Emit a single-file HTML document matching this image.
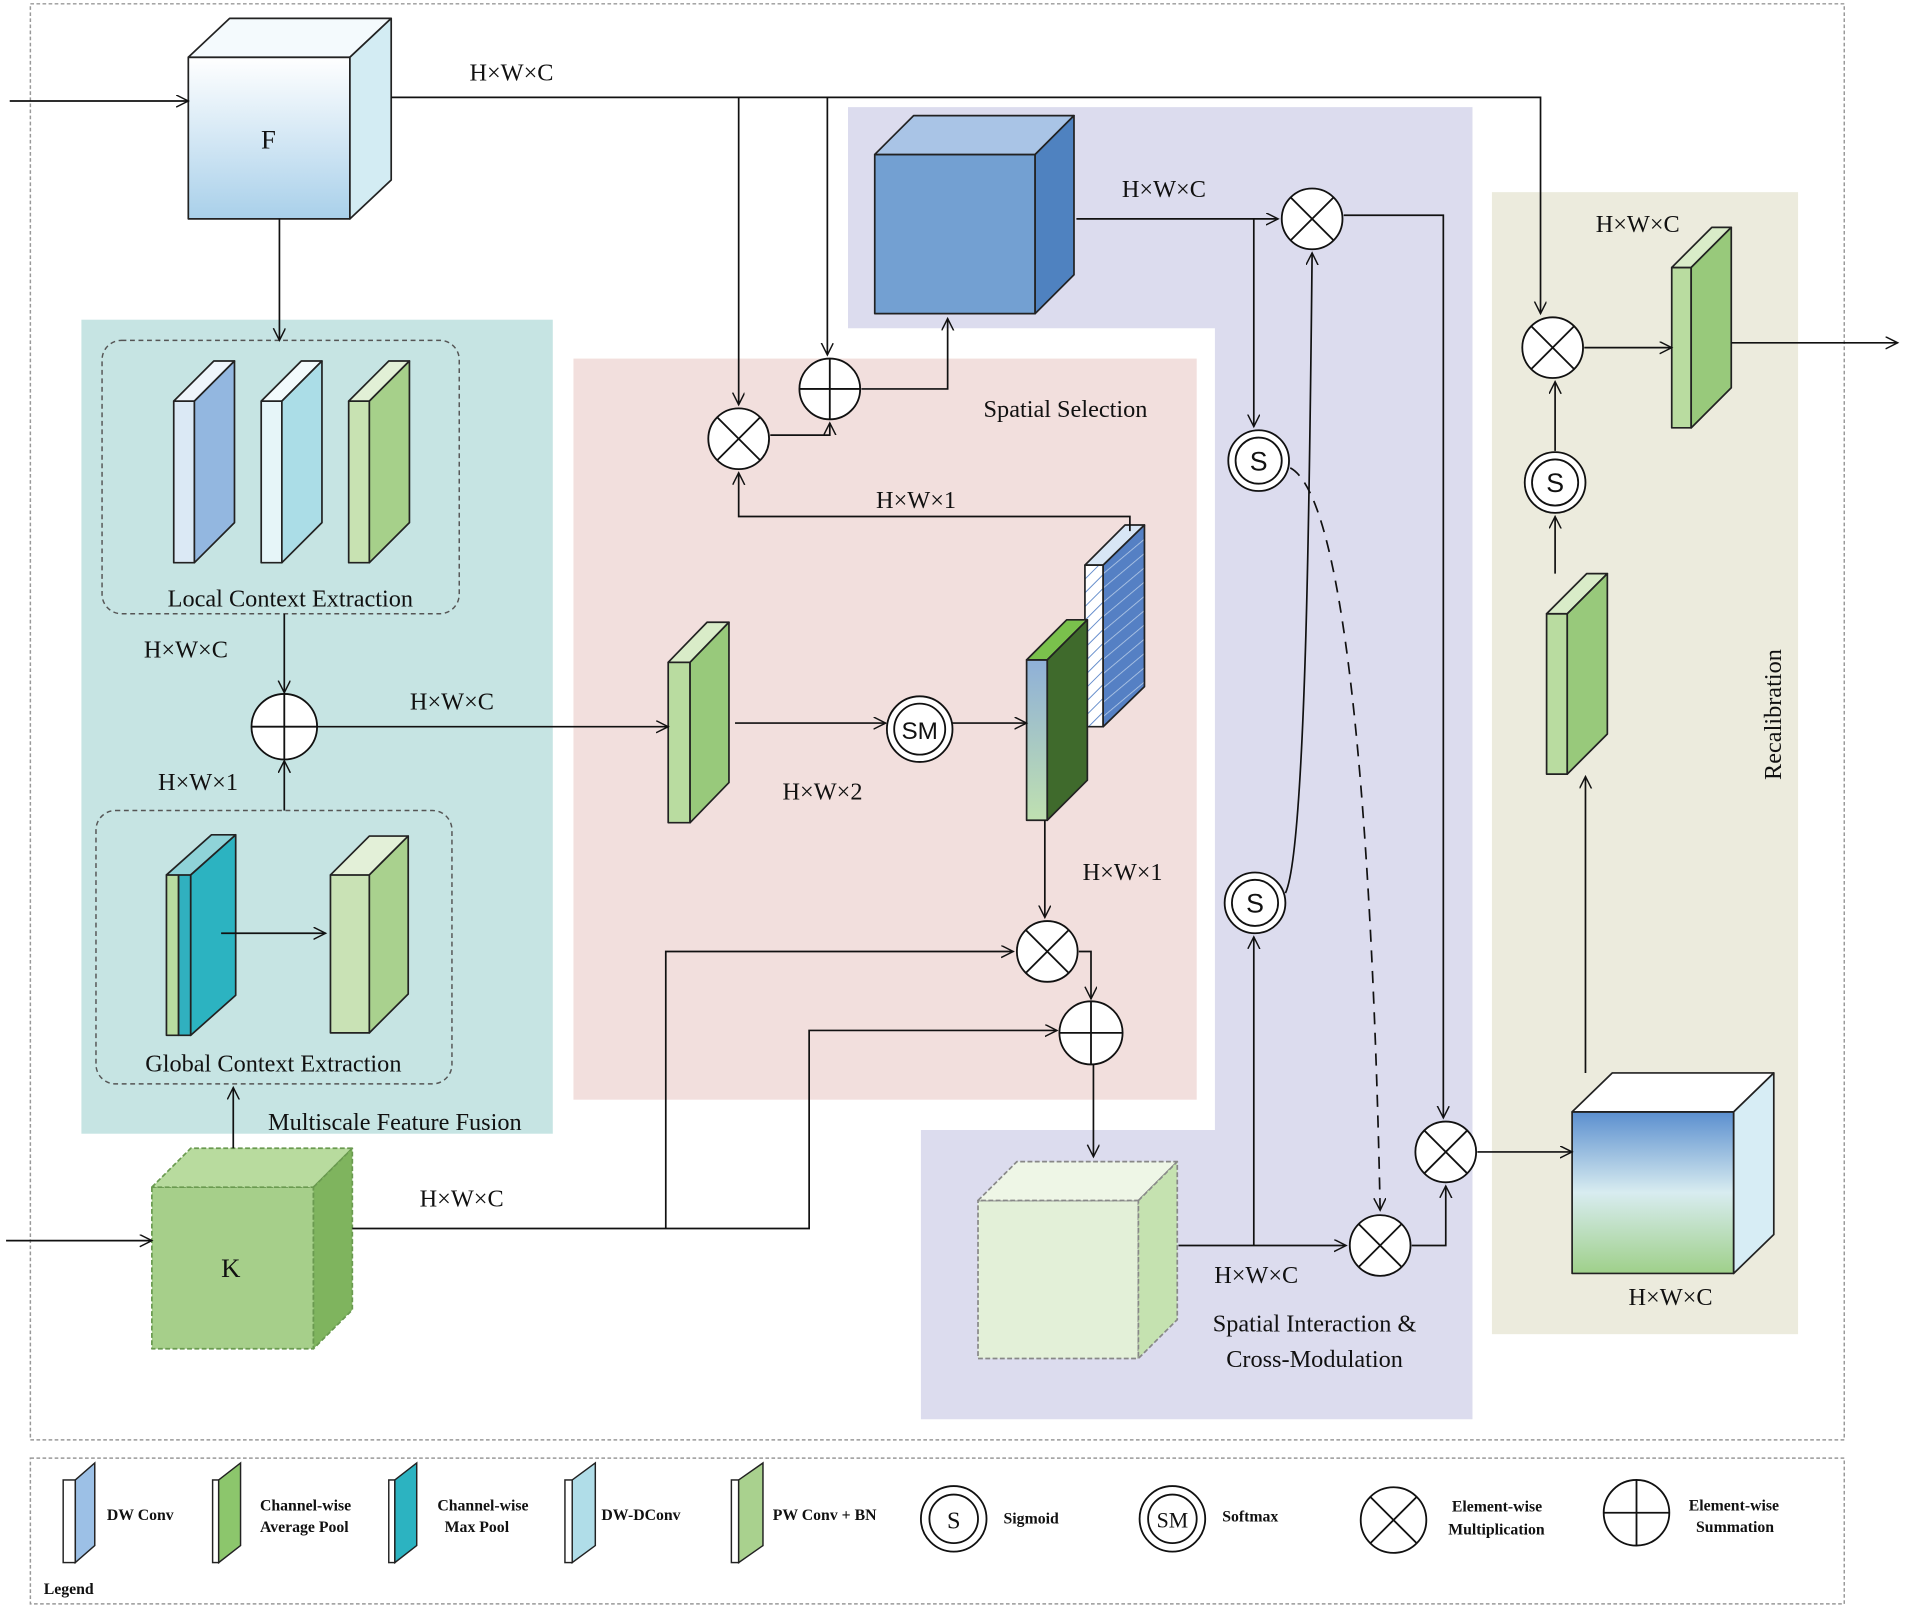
<!DOCTYPE html>
<html><head><meta charset="utf-8"><style>
html,body{margin:0;padding:0;background:#fff;}
svg{display:block;}
text{font-family:"Liberation Serif",serif;fill:#111;}
</style></head><body>
<svg width="1905" height="1615" viewBox="0 0 1568 1329" xmlns="http://www.w3.org/2000/svg">
<defs>
<marker id="a" markerWidth="12" markerHeight="12" refX="10" refY="5" orient="auto" markerUnits="userSpaceOnUse"><path d="M0,0 L10,5 L0,10" fill="none" stroke="#111" stroke-width="1.2"/></marker>
<linearGradient id="gF" x1="0" y1="0" x2="0" y2="1"><stop offset="0" stop-color="#ffffff"/><stop offset="1" stop-color="#a9d0ea"/></linearGradient>
<linearGradient id="gR" x1="0" y1="0" x2="0" y2="1"><stop offset="0" stop-color="#5b8fcf"/><stop offset="0.5" stop-color="#d8ecf0"/><stop offset="1" stop-color="#9fd08a"/></linearGradient>
<linearGradient id="gS" x1="0" y1="0" x2="0" y2="1"><stop offset="0" stop-color="#8fb0d8"/><stop offset="1" stop-color="#bfe0b0"/></linearGradient>
<pattern id="hw" width="8" height="8" patternUnits="userSpaceOnUse" patternTransform="rotate(-45)"><rect width="8" height="8" fill="#fff"/><line x1="0" y1="0" x2="8" y2="0" stroke="#5b86c8" stroke-width="1.5"/></pattern>
<pattern id="hb" width="9" height="9" patternUnits="userSpaceOnUse" patternTransform="rotate(-40)"><rect width="9" height="9" fill="#5580c4"/><line x1="0" y1="0" x2="9" y2="0" stroke="#b8cde8" stroke-width="1.3"/></pattern>
</defs>
<g fill="none" stroke="#999" stroke-width="1.2" stroke-dasharray="3,2">
<rect x="25" y="3" width="1493" height="1182"/>
<rect x="25" y="1200" width="1493" height="120"/>
</g>
<rect x="67" y="263" width="388" height="670" fill="#c6e4e3"/>
<path d="M698,88 H1212 V1168 H758 V930 H1000 V270 H698 Z" fill="#dcdcee"/>
<rect x="472" y="295" width="513" height="610" fill="#f2dfdd"/>
<rect x="1228" y="158" width="252" height="940" fill="#ecebdd"/>
<g fill="none" stroke="#555" stroke-width="1.2" stroke-dasharray="4,3">
<rect x="84" y="280" width="294" height="225" rx="16"/>
<rect x="79" y="667" width="293" height="225" rx="16"/>
</g>
<g stroke="#222" stroke-width="1.4" stroke-linejoin="round">
<rect x="155" y="47" width="133" height="133" fill="url(#gF)"/>
<polygon points="155,47 189,15 322,15 288,47" fill="#f4fafd"/>
<polygon points="288,47 322,15 322,148 288,180" fill="#d3ecf3"/>
<g stroke-dasharray="4,2" stroke="#6a9a50">
<rect x="125" y="977" width="133" height="133" fill="#a6cf8a"/>
<polygon points="125,977 157,945 290,945 258,977" fill="#b8db9e"/>
<polygon points="258,977 290,945 290,1078 258,1110" fill="#7fb45e"/>
</g>
<rect x="720" y="127" width="132" height="131" fill="#73a0d2"/>
<polygon points="720,127 752,95 884,95 852,127" fill="#a9c4e6"/>
<polygon points="852,127 884,95 884,226 852,258" fill="#4f82c0"/>
<g stroke-dasharray="4,2" stroke="#888">
<rect x="805" y="988" width="132" height="130" fill="#e3f0d8"/>
<polygon points="805,988 837,956 969,956 937,988" fill="#eef6e6"/>
<polygon points="937,988 969,956 969,1086 937,1118" fill="#c5e2b0"/>
</g>
<rect x="1294" y="915" width="133" height="133" fill="url(#gR)"/>
<polygon points="1294,915 1327,883 1460,883 1427,915" fill="#ffffff"/>
<polygon points="1427,915 1460,883 1460,1016 1427,1048" fill="#d7edf5"/>
<rect x="143" y="330" width="17" height="133" fill="#dbe9f5"/><polygon points="143,330 176,297 193,297 160,330" fill="#eef5fb"/><polygon points="160,330 193,297 193,430 160,463" fill="#93b7e0"/>
<rect x="215" y="330" width="17" height="133" fill="#e6f5f8"/><polygon points="215,330 248,297 265,297 232,330" fill="#f2fafc"/><polygon points="232,330 265,297 265,430 232,463" fill="#abdde7"/>
<rect x="287" y="330" width="17" height="133" fill="#c8e2b2"/><polygon points="287,330 320,297 337,297 304,330" fill="#e2f0d6"/><polygon points="304,330 337,297 337,430 304,463" fill="#a6d08a"/>
<rect x="137" y="720" width="10" height="132" fill="#b8dca0"/>
<rect x="147" y="720" width="10" height="132" fill="#30b0bf"/><polygon points="137,720 174,687 194,687 157,720" fill="#8fd3d8"/><polygon points="157,720 194,687 194,819 157,852" fill="#2cb3c1"/>
<rect x="272" y="720" width="32" height="130" fill="#c9e2b5"/><polygon points="272,720 304,688 336,688 304,720" fill="#e3f0d8"/><polygon points="304,720 336,688 336,818 304,850" fill="#a9d18e"/>
<rect x="550" y="545" width="18" height="132" fill="#b9dca0"/><polygon points="550,545 582,512 600,512 568,545" fill="#d9ecc8"/><polygon points="568,545 600,512 600,644 568,677" fill="#98c97b"/>
<polygon points="893,465 926,432 942,432 908,465" fill="#d8e6f5"/>
<rect x="893" y="465" width="15" height="133" fill="url(#hw)"/>
<polygon points="908,465 942,432 942,565 908,598" fill="url(#hb)"/>
<rect x="845" y="543" width="17" height="132" fill="url(#gS)"/><polygon points="845,543 878,510 895,510 862,543" fill="#7ac14c"/><polygon points="862,543 895,510 895,642 862,675" fill="#3f6a2c"/>
<rect x="1273" y="505" width="17" height="132" fill="#b9dca0"/><polygon points="1273,505 1306,472 1323,472 1290,505" fill="#d9ecc8"/><polygon points="1290,505 1323,472 1323,604 1290,637" fill="#98c97b"/>
<rect x="1376" y="220" width="16" height="132" fill="#b9dca0"/><polygon points="1376,220 1409,187 1425,187 1392,220" fill="#d9ecc8"/><polygon points="1392,220 1425,187 1425,319 1392,352" fill="#98c97b"/>
</g>
<g fill="none" stroke="#111" stroke-width="1.4">
<path d="M8,83 H155" marker-end="url(#a)"/>
<path d="M322,80 H1268 V258" marker-end="url(#a)"/>
<path d="M608,80 V333" marker-end="url(#a)"/>
<path d="M681,80 V292" marker-end="url(#a)"/>
<path d="M634,358 H683 V348" marker-end="url(#a)"/>
<path d="M709,320 H780 V262" marker-end="url(#a)"/>
<path d="M930,437 V425 H608 V389" marker-end="url(#a)"/>
<path d="M230,180 V280" marker-end="url(#a)"/>
<path d="M234,505 V570" marker-end="url(#a)"/>
<path d="M234,667 V626" marker-end="url(#a)"/>
<path d="M182,768 H268" marker-end="url(#a)"/>
<path d="M192,945 V895" marker-end="url(#a)"/>
<path d="M260,598 H550" marker-end="url(#a)"/>
<path d="M605,595 H729" marker-end="url(#a)"/>
<path d="M783,595 H845" marker-end="url(#a)"/>
<path d="M860,675 V755" marker-end="url(#a)"/>
<path d="M5,1021 H125" marker-end="url(#a)"/>
<path d="M290,1011 H666 V848 H870" marker-end="url(#a)"/>
<path d="M548,1011 V783 H834" marker-end="url(#a)"/>
<path d="M888,783 H898 V822" marker-end="url(#a)"/>
<path d="M900,876 V952" marker-end="url(#a)"/>
<path d="M886,180 H1052" marker-end="url(#a)"/>
<path d="M1032,180 V351" marker-end="url(#a)"/>
<path d="M1062,385 C1110,410 1130,700 1136,996" stroke-dasharray="10,7" marker-end="url(#a)"/>
<path d="M1058,735 C1075,700 1078,400 1080,208" marker-end="url(#a)"/>
<path d="M1106,177 H1188 V920" marker-end="url(#a)"/>
<path d="M970,1025 H1108" marker-end="url(#a)"/>
<path d="M1032,1025 V771" marker-end="url(#a)"/>
<path d="M1162,1025 H1190 V976" marker-end="url(#a)"/>
<path d="M1216,948 H1294" marker-end="url(#a)"/>
<path d="M1305,883 V639" marker-end="url(#a)"/>
<path d="M1280,472 V425" marker-end="url(#a)"/>
<path d="M1280,371 V314" marker-end="url(#a)"/>
<path d="M1304,286 H1376" marker-end="url(#a)"/>
<path d="M1425,282 H1562" marker-end="url(#a)"/>
</g>
<g fill="#fff" stroke="#111" stroke-width="1.5">
<circle cx="608" cy="361" r="25"/><path d="M590,343 L626,379 M626,343 L590,379"/>
<circle cx="862" cy="783" r="25"/><path d="M844,765 L880,801 M880,765 L844,801"/>
<circle cx="1080" cy="180" r="25"/><path d="M1062,162 L1098,198 M1098,162 L1062,198"/>
<circle cx="1190" cy="948" r="25"/><path d="M1172,930 L1208,966 M1208,930 L1172,966"/>
<circle cx="1136" cy="1025" r="25"/><path d="M1118,1007 L1154,1043 M1154,1007 L1118,1043"/>
<circle cx="1278" cy="286" r="25"/><path d="M1260,268 L1296,304 M1296,268 L1260,304"/>
<circle cx="683" cy="320" r="25"/><path d="M658,320 H708 M683,295 V345"/>
<circle cx="234" cy="598" r="27"/><path d="M207,598 H261 M234,571 V625"/>
<circle cx="898" cy="850" r="26"/><path d="M872,850 H924 M898,824 V876"/>
<circle cx="757" cy="600" r="27"/><circle cx="757" cy="600" r="21"/>
<circle cx="1036" cy="379" r="25"/><circle cx="1036" cy="379" r="19"/>
<circle cx="1033" cy="743" r="25"/><circle cx="1033" cy="743" r="19"/>
<circle cx="1280" cy="397" r="25"/><circle cx="1280" cy="397" r="19"/>
</g>
<g font-size="22" text-anchor="middle">
<text x="757" y="608" style="font-family:'Liberation Sans',sans-serif" font-size="20">SM</text>
<text x="1036" y="387" style="font-family:'Liberation Sans',sans-serif">S</text>
<text x="1033" y="751" style="font-family:'Liberation Sans',sans-serif">S</text>
<text x="1280" y="405" style="font-family:'Liberation Sans',sans-serif">S</text>
<text x="221" y="122">F</text>
<text x="190" y="1051">K</text>
</g>
<g font-size="20" text-anchor="middle">
<text x="421" y="66">H×W×C</text>
<text x="958" y="162">H×W×C</text>
<text x="1348" y="191">H×W×C</text>
<text x="153" y="541">H×W×C</text>
<text x="372" y="584">H×W×C</text>
<text x="380" y="993">H×W×C</text>
<text x="1034" y="1056">H×W×C</text>
<text x="1375" y="1074">H×W×C</text>
<text x="754" y="418">H×W×1</text>
<text x="163" y="650">H×W×1</text>
<text x="924" y="724">H×W×1</text>
<text x="677" y="658">H×W×2</text>
<text x="239" y="499">Local Context Extraction</text>
<text x="225" y="882">Global Context Extraction</text>
<text x="325" y="930">Multiscale Feature Fusion</text>
<text x="877" y="343">Spatial Selection</text>
<text x="1082" y="1096">Spatial Interaction &amp;</text>
<text x="1082" y="1125">Cross-Modulation</text>
<text transform="translate(1466,588) rotate(-90)">Recalibration</text>
</g>
<g stroke="#222" stroke-width="1.2">
<rect x="52" y="1218" width="10" height="68" fill="#fff"/><polygon points="62,1218 78,1204 78,1272 62,1286" fill="#9cc0e6"/>
<rect x="175" y="1218" width="5" height="68" fill="#fff"/><polygon points="180,1218 198,1204 198,1272 180,1286" fill="#8cc66c"/>
<rect x="320" y="1218" width="5" height="68" fill="#fff"/><polygon points="325,1218 343,1204 343,1272 325,1286" fill="#2cb3c1"/>
<rect x="465" y="1218" width="6" height="68" fill="#fff"/><polygon points="471,1218 490,1204 490,1272 471,1286" fill="#b0dde8"/>
<rect x="602" y="1218" width="6" height="68" fill="#fff"/><polygon points="608,1218 628,1204 628,1272 608,1286" fill="#a9d18e"/>
</g>
<g fill="#fff" stroke="#111" stroke-width="1.5">
<circle cx="785" cy="1250" r="27"/><circle cx="785" cy="1250" r="20"/>
<circle cx="965" cy="1250" r="27"/><circle cx="965" cy="1250" r="20"/>
<circle cx="1147" cy="1251" r="27"/><path d="M1128,1232 L1166,1270 M1166,1232 L1128,1270"/>
<circle cx="1347" cy="1245" r="27"/><path d="M1320,1245 H1374 M1347,1218 V1272"/>
</g>
<g font-size="20" text-anchor="middle" style="font-family:'Liberation Sans',sans-serif">
<text x="785" y="1258">S</text><text x="965" y="1257" font-size="18">SM</text>
</g>
<g font-size="13" font-weight="bold">
<text x="88" y="1251">DW Conv</text>
<text x="214" y="1243">Channel-wise</text><text x="214" y="1261">Average Pool</text>
<text x="360" y="1243">Channel-wise</text><text x="366" y="1261">Max Pool</text>
<text x="495" y="1251">DW-DConv</text>
<text x="636" y="1251">PW Conv + BN</text>
<text x="826" y="1254">Sigmoid</text>
<text x="1006" y="1252">Softmax</text>
<text x="1195" y="1244">Element-wise</text><text x="1192" y="1263">Multiplication</text>
<text x="1390" y="1243">Element-wise</text><text x="1396" y="1261">Summation</text>
<text x="36" y="1312">Legend</text>
</g>
</svg>
</body></html>
